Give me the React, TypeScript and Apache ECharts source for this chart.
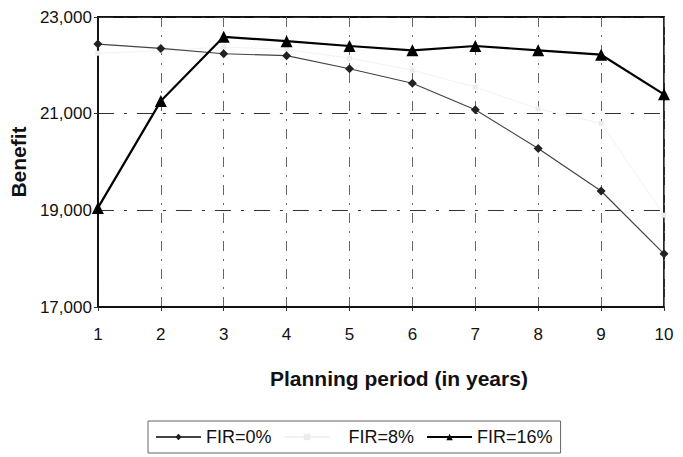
import React, { useEffect, useRef } from "react";
import * as echarts from "echarts";

const categories = ["1", "2", "3", "4", "5", "6", "7", "8", "9", "10"];
const fir0 = [22440, 22350, 22240, 22200, 21930, 21630, 21080, 20280, 19400, 18100];
const fir8 = [22250, 22300, 22380, 22330, 22150, 21900, 21550, 21100, 20800, 18900];
const fir16 = [19050, 21260, 22590, 22500, 22400, 22310, 22400, 22310, 22220, 21400];
const yTicks = { min: 17000, max: 23000, interval: 2000 };
const legendNames = ["FIR=0%", "FIR=8%", "FIR=16%"];

const FONT = "'Liberation Sans', Arial, sans-serif";

export default function App() {
  const ref = useRef<HTMLDivElement>(null);
  useEffect(() => {
    if (!ref.current) return;
    const chart = echarts.init(ref.current, undefined, { renderer: "svg" });
    chart.setOption({
      animation: false,
      backgroundColor: "#fff",
      textStyle: { fontFamily: FONT },
      grid: {
        left: 96,
        right: 19,
        top: 17,
        bottom: 150,
        show: true,
        borderColor: "#111",
        borderWidth: 1.8,
        backgroundColor: "transparent",
      },
      legend: {
        top: 421,
        left: 148,
        orient: "horizontal",
        itemWidth: 45,
        itemHeight: 8,
        itemGap: 12,
        padding: [7, 8, 7, 7],
        borderColor: "#666",
        borderWidth: 1,
        textStyle: { fontFamily: FONT, fontSize: 18, color: "#111" },
        data: [
          { name: legendNames[0] },
          { name: legendNames[1], textStyle: { padding: [0, 0, 0, 14] } },
          { name: legendNames[2] },
        ],
      },
      xAxis: {
        type: "category",
        data: categories,
        boundaryGap: false,
        name: "Planning period (in years)",
        nameLocation: "middle",
        nameGap: 61,
        nameTextStyle: {
          fontFamily: FONT,
          fontSize: 21,
          fontWeight: "bold",
          color: "#111",
          padding: [0, 0, 0, 36],
        },
        axisLine: { lineStyle: { color: "#111", width: 1.8 } },
        axisTick: { show: true, length: 4, lineStyle: { color: "#333" } },
        axisLabel: { fontFamily: FONT, fontSize: 17, color: "#111", margin: 19 },
        splitLine: {
          show: true,
          lineStyle: { color: "#666", width: 1, type: [10, 8, 2, 8] },
        },
      },
      yAxis: {
        type: "value",
        min: yTicks.min,
        max: yTicks.max,
        interval: yTicks.interval,
        name: "Benefit",
        nameLocation: "middle",
        nameGap: 68,
        nameRotate: 90,
        nameTextStyle: { fontFamily: FONT, fontSize: 21, fontWeight: "bold", color: "#111" },
        axisLine: { show: true, lineStyle: { color: "#111", width: 1.8 } },
        axisTick: { show: true, length: 4, lineStyle: { color: "#333" } },
        axisLabel: {
          fontFamily: FONT,
          fontSize: 17,
          color: "#111",
          margin: 6,
          formatter: (v: number) => v.toLocaleString("en-US"),
        },
        splitLine: {
          show: true,
          lineStyle: { color: "#333", width: 1, type: [16, 10, 3, 10] },
        },
      },
      series: [
        {
          name: legendNames[0],
          type: "line",
          data: fir0,
          symbol: "diamond",
          symbolSize: 9,
          lineStyle: { color: "#444", width: 1.2 },
          itemStyle: { color: "#222" },
        },
        {
          name: legendNames[1],
          type: "line",
          data: fir8,
          symbol: "rect",
          symbolSize: 5,
          lineStyle: { color: "#f2f2f2", width: 1 },
          itemStyle: { color: "#ececec" },
          z: 1,
        },
        {
          name: legendNames[2],
          type: "line",
          data: fir16,
          symbol: "triangle",
          symbolSize: 12,
          lineStyle: { color: "#000", width: 2.2 },
          itemStyle: { color: "#000" },
          z: 3,
        },
      ],
    });
    return () => chart.dispose();
  }, []);
  return <div ref={ref} style={{ width: 683, height: 457, position: "absolute", left: 0, top: 0 }} />;
}
